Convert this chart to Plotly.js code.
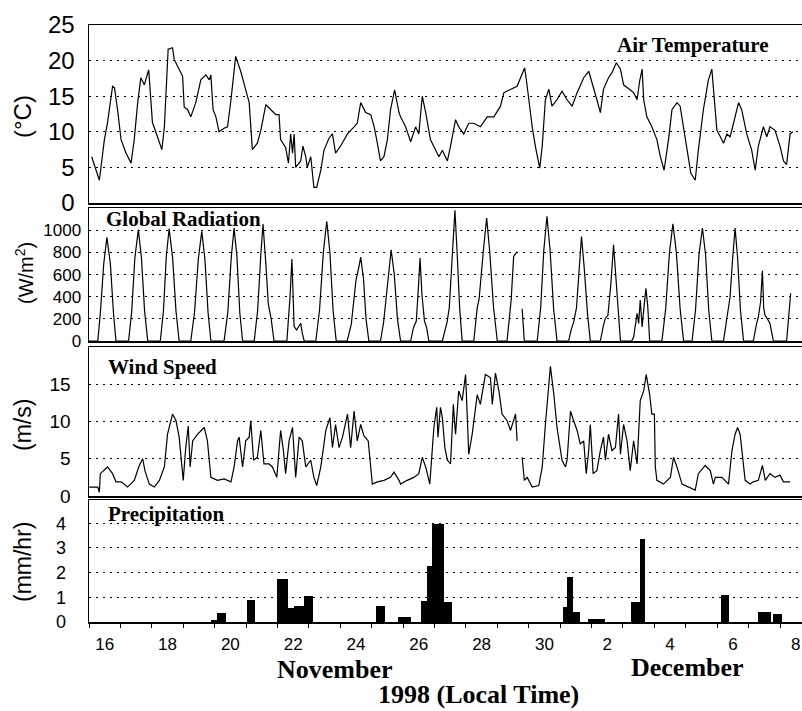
<!DOCTYPE html>
<html>
<head>
<meta charset="utf-8">
<script src="https://cdn.plot.ly/plotly-3.0.1.min.js"></script>
<style>html,body{margin:0;padding:0;background:#fff;}#chart{width:802px;height:711px;}</style>
</head>
<body>
<div id="chart"></div>
<script>
// Time axis: days since 1998-11-16 00:00 local time
const dayTickVals = [0.5, 2.5, 4.5, 6.5, 8.5, 10.5, 12.5, 14.5, 16.5, 18.5, 20.5, 22.5];
const dayTickText = ['16', '18', '20', '22', '24', '26', '28', '30', '2', '4', '6', '8'];

// Air temperature (°C)
const tempT = [0.085,0.33,0.49,0.59,0.75,0.81,0.91,1.02,1.18,1.34,1.44,1.55,1.65,1.76,1.90,1.95,2.02,2.18,2.32,2.40,
  2.47,2.52,2.66,2.71,2.82,2.98,3.03,3.14,3.24,3.40,3.56,3.72,3.83,3.88,3.95,4.04,4.14,4.30,4.41,4.52,
  4.67,4.83,4.99,5.10,5.20,5.36,5.47,5.63,5.79,5.95,6.05,6.10,6.26,6.35,6.42,6.48,6.53,6.58,6.74,6.81,
  6.90,6.95,7.06,7.16,7.25,7.38,7.48,7.64,7.75,7.85,8.01,8.12,8.23,8.44,8.54,8.65,8.81,8.97,9.08,9.18,
  9.28,9.39,9.50,9.60,9.73,9.87,
  9.92,10.08,10.24,10.40,10.50,10.61,10.72,10.87,10.98,11.14,11.25,11.41,11.51,11.67,11.77,11.93,12.09,12.25,12.46,12.68,
  12.89,13.10,13.21,13.42,13.63,13.74,13.87,13.95,14.11,14.21,14.35,14.43,14.53,14.64,14.74,14.90,15.06,15.22,15.38,15.54,
  15.75,15.91,16.02,16.17,16.28,16.38,16.54,16.65,16.79,16.92,17.02,17.18,17.34,17.45,17.53,17.61,17.66,17.76,17.92,18.08,
  18.19,18.31,18.45,18.56,18.72,18.82,18.93,19.04,19.16,19.30,19.40,19.56,19.72,19.83,19.91,19.99,20.10,20.20,20.31,20.41,
  20.52,20.68,20.78,20.94,21.10,21.21,21.31,21.47,21.58,21.68,21.84,22.00,22.11,22.21,22.32,22.41];
const tempV = [6.5,3.2,8.9,11.3,16.4,16.2,13.1,8.9,7.0,5.6,8.9,14.1,17.6,16.6,18.7,15.5,11.3,9.3,7.5,10.7,
  16.9,21.6,21.8,20.2,19.2,17.8,13.5,13.1,12.1,14.1,17.3,18.0,17.3,18.0,13.1,12.1,10.0,10.5,10.7,14.5,
  20.6,18.5,15.9,14.1,7.5,8.4,10.2,13.8,13.1,12.4,12.4,8.9,7.8,5.6,9.7,7.0,9.7,5.0,5.9,8.0,
  6.5,5.0,6.5,2.2,2.2,4.6,7.4,9.1,9.7,7.0,8.0,8.9,9.7,10.7,11.2,14.1,12.7,12.4,10.7,8.4,
  5.9,6.5,8.9,13.1,15.9,12.7,
  12.1,10.7,8.6,10.7,9.7,15.0,12.7,8.9,8.0,6.5,7.4,5.9,8.0,11.7,10.7,9.7,11.2,11.2,10.7,12.1,
  12.1,13.6,15.5,16.0,16.4,17.6,19.0,16.4,10.7,8.0,4.9,8.0,14.5,16.0,13.6,14.5,15.7,14.5,13.6,15.5,
  17.6,18.5,16.9,14.5,12.7,16.0,17.6,18.3,19.7,18.8,16.6,16.1,15.5,14.5,17.1,18.8,14.5,12.1,10.7,8.9,
  6.5,4.6,8.9,13.1,14.1,13.6,10.7,7.4,4.2,3.2,7.4,13.1,17.3,18.8,14.5,10.2,9.3,8.4,9.7,9.3,
  11.2,14.1,13.1,9.7,7.4,4.6,8.0,10.7,9.3,10.7,10.2,8.0,5.9,5.4,9.7,10.0];

// Global radiation (W/m2)
const radT = [0,
  0.28,0.36,0.47,0.57,0.68,0.78,0.86,
  1.26,1.36,1.46,1.57,1.67,1.77,1.87,
  2.27,2.37,2.46,2.55,2.66,2.77,2.87,
  3.24,3.36,3.48,3.59,3.69,3.79,3.88,
  4.30,4.42,4.53,4.62,4.71,4.80,4.89,
  5.26,5.37,5.47,5.54,5.63,5.71,5.80,5.89,
  6.30,6.34,6.40,6.46,6.49,6.53,6.61,6.74,6.79,6.85,
  7.22,7.34,7.46,7.57,7.67,7.77,7.87,
  8.22,8.35,8.50,8.60,8.65,8.74,8.82,8.91,
  9.28,9.38,9.50,9.62,9.72,9.82,9.92,
  10.24,10.33,10.42,10.48,10.54,10.60,10.68,10.75,10.82,
  11.25,11.40,11.47,11.56,11.65,11.72,11.80,11.88,
  12.25,12.36,12.42,12.55,12.66,12.76,12.88,13.00,
  13.31,13.44,13.52,13.63,null,13.79,13.86,
  14.27,14.38,14.48,14.58,14.68,14.79,14.90,
  15.27,15.35,15.43,15.52,15.60,15.68,15.77,15.87,15.96,
  16.28,16.37,16.44,16.52,16.61,16.70,16.77,16.85,16.92,
  17.28,17.34,17.45,17.50,17.55,17.61,17.66,17.73,17.79,17.85,
  18.24,18.36,18.48,18.59,18.70,18.82,18.93,
  19.20,19.31,19.42,19.53,19.63,19.73,19.83,
  20.20,20.30,20.41,20.48,20.57,20.65,20.74,20.84,
  21.15,21.25,21.31,21.38,21.44,21.48,21.52,21.60,21.68,21.79,
  22.21,22.34];
const radV = [0,
  0,250,700,936,700,250,0,
  0,270,750,1006,750,270,0,
  0,270,760,1015,760,270,0,
  0,260,740,991,740,260,0,
  0,260,760,1021,760,260,0,
  0,280,780,1058,700,330,200,0,
  0,160,400,740,370,130,100,160,70,0,
  0,280,800,1082,800,280,0,
  0,150,550,680,758,560,200,0,
  0,170,500,824,600,200,0,
  0,120,180,450,749,420,180,120,0,
  0,170,300,800,1182,800,300,0,
  0,300,380,800,1112,800,300,0,
  0,370,764,809,null,291,0,
  0,300,820,1127,820,300,0,
  0,100,170,300,650,945,650,250,0,
  0,130,206,230,500,870,600,220,0,
  0,36,250,158,370,127,279,476,309,0,
  0,290,800,1058,800,290,0,
  0,280,780,1021,780,280,0,
  0,200,400,700,1021,750,280,0,
  0,150,218,350,634,300,234,200,158,0,
  0,431];

// Wind speed (m/s)
const windT = [0.01,0.28,0.33,0.36,0.59,0.75,0.86,1.02,1.23,1.44,1.60,1.71,1.78,1.92,2.08,2.24,2.40,2.50,2.66,2.77,
  2.87,3.00,3.08,3.16,3.22,3.30,3.46,3.67,3.77,3.88,4.09,4.30,4.52,4.62,4.73,4.78,4.89,4.99,5.10,5.15,
  5.24,5.36,5.47,5.57,5.73,5.84,5.98,6.10,6.19,6.26,6.37,6.48,6.58,6.69,6.79,6.90,7.06,7.16,7.25,7.38,
  7.54,7.67,7.75,7.85,7.96,8.07,8.23,8.33,8.44,8.54,8.65,8.75,8.89,9.02,9.18,9.39,9.60,9.71,9.87,
  9.92,10.13,10.34,10.50,10.61,10.72,10.85,10.98,11.07,11.11,11.19,11.25,11.33,11.41,11.51,11.60,11.67,11.77,11.88,11.99,
  12.09,12.20,12.36,12.46,12.62,12.78,12.84,12.94,13.05,13.15,13.31,13.42,13.58,13.63,null,13.79,13.86,13.95,14.11,14.32,
  14.43,14.53,14.69,14.80,14.90,15.06,15.17,15.22,15.33,15.43,15.54,15.64,15.75,15.83,15.91,15.96,16.05,16.17,16.28,16.38,
  16.44,16.54,16.65,16.76,16.86,16.92,17.02,17.13,17.23,17.34,17.45,17.55,17.66,17.74,17.85,17.92,18.00,18.03,18.08,18.29,
  18.51,18.61,18.72,18.88,19.09,19.30,19.40,19.62,19.78,19.88,19.94,20.15,20.36,20.47,20.57,20.65,20.73,20.89,21.05,21.15,
  21.31,21.44,21.53,21.68,21.84,22.00,22.11,22.32];
const windV = [1.2,1.2,0.5,3.0,3.9,3.0,1.9,1.9,1.2,2.1,4.1,5.0,3.4,1.6,1.2,2.1,3.9,8.3,11.0,10.1,
  7.9,2.1,6.5,9.4,3.9,7.4,8.3,9.2,7.4,2.5,2.1,2.3,1.9,3.9,7.4,7.9,3.9,7.4,7.9,10.1,
  4.8,5.2,8.8,4.3,4.3,3.9,2.5,8.8,6.1,3.0,7.4,9.2,2.5,7.9,7.4,3.9,4.8,2.5,1.4,3.9,
  8.8,10.5,6.5,9.6,6.5,7.9,11.0,6.5,11.4,7.4,9.6,8.1,7.4,1.6,1.9,2.1,2.5,3.2,2.1,
  1.6,2.1,2.5,3.0,5.2,3.9,1.6,9.2,11.9,7.9,11.9,10.5,6.5,4.8,4.3,12.3,8.3,14.1,12.8,16.3,
  5.6,8.3,13.6,12.3,16.3,15.9,12.3,16.5,14.1,11.0,10.1,8.8,11.0,7.4,null,5.2,2.1,2.5,1.2,1.4,
  3.9,9.6,17.4,13.6,9.2,4.8,3.9,4.8,11.4,10.1,8.8,7.0,7.4,3.0,6.1,9.6,3.0,3.4,6.1,7.9,
  4.8,8.3,6.1,6.5,11.0,5.6,9.6,7.4,3.4,7.4,4.3,12.8,14.1,16.3,13.6,11.0,11.0,3.9,2.1,1.6,
  2.5,5.2,3.9,1.6,1.2,0.8,3.0,4.1,3.4,1.6,2.5,2.5,1.6,6.1,8.3,9.2,8.3,2.1,1.6,1.9,
  2.1,4.1,2.1,3.0,2.5,2.8,1.9,1.9];

// Precipitation (mm/hr): accumulation periods (start, end in days) and rate
const precipStart = [3.88,4.09,5.02,6.00,6.32,6.53,6.83,9.13,9.83,10.56,10.77,10.93,11.30,15.08,15.22,15.41,15.90,17.26,17.53,20.12,21.31,21.77];
const precipEnd   = [4.09,4.36,5.28,6.32,6.53,6.83,7.14,9.41,10.24,10.77,10.93,11.30,11.56,15.22,15.41,15.62,16.44,17.53,17.71,20.36,21.72,22.05];
const precipRate  = [0.10,0.36,0.88,1.75,0.57,0.66,1.04,0.66,0.19,0.84,2.28,3.96,0.80,0.60,1.82,0.40,0.13,0.81,3.38,1.10,0.42,0.32];

// ---- layout helpers (pixel -> paper) ----
const W = 802, H = 711;
const M = {l: 89, r: 0, t: 25, b: 89};
const PW = W - M.l - M.r, PH = H - M.t - M.b;
const px = x => (x - M.l) / PW;
const py = y => (H - M.b - y) / PH;

const lineStyle = {color: '#000', width: 1.2};
const traces = [
  {x: tempT, y: tempV, xaxis: 'x', yaxis: 'y', type: 'scatter', mode: 'lines', line: lineStyle, hoverinfo: 'skip'},
  {x: radT, y: radV, xaxis: 'x2', yaxis: 'y2', type: 'scatter', mode: 'lines', line: lineStyle, hoverinfo: 'skip'},
  {x: windT, y: windV, xaxis: 'x3', yaxis: 'y3', type: 'scatter', mode: 'lines', line: lineStyle, hoverinfo: 'skip'},
  {x: precipStart.map((s, i) => (s + precipEnd[i]) / 2),
   width: precipStart.map((s, i) => precipEnd[i] - s),
   y: precipRate, xaxis: 'x4', yaxis: 'y4', type: 'bar',
   marker: {color: '#000', line: {width: 0}}, hoverinfo: 'skip'}
];

const xRange = [0, 22.7];
const xBase = {range: xRange, showline: true, linecolor: '#000', linewidth: 1.5, mirror: true,
  showgrid: false, zeroline: false, showticklabels: false, ticks: ''};
const gridDash = '2px,5px';
function yAx(domain, range, tickvals, fs, standoff) {
  return {domain: domain, range: range, tickmode: 'array', tickvals: tickvals,
    showline: true, linecolor: '#000', linewidth: 1.5, mirror: false,
    showgrid: true, gridcolor: '#000', gridwidth: 1, griddash: gridDash,
    zeroline: false, ticks: '', ticklabelstandoff: standoff,
    tickfont: {family: 'Liberation Sans, Arial, sans-serif', size: fs, color: '#000'}};
}

const layout = {
  width: W, height: H, margin: M, showlegend: false,
  paper_bgcolor: '#fff', plot_bgcolor: '#fff', bargap: 0,
  xaxis: Object.assign({}, xBase, {anchor: 'y'}),
  xaxis2: Object.assign({}, xBase, {anchor: 'y2', matches: 'x'}),
  xaxis3: Object.assign({}, xBase, {anchor: 'y3', matches: 'x'}),
  xaxis4: Object.assign({}, xBase, {anchor: 'y4', matches: 'x',
    showticklabels: true, tickmode: 'array', tickvals: dayTickVals, ticktext: dayTickText,
    ticks: 'outside', ticklen: 0, ticklabelstandoff: 6,
    minor: {tick0: 0, dtick: 1, ticks: 'outside', ticklen: 4, tickwidth: 1, tickcolor: '#000', showgrid: false},
    tickfont: {family: 'Liberation Sans, Arial, sans-serif', size: 17, color: '#000'}}),
  yaxis: yAx([py(203), 1], [0, 25], [0, 5, 10, 15, 20, 25], 24, 8),
  yaxis2: yAx([py(341), py(208)], [0, 1202], [0, 200, 400, 600, 800, 1000], 17, 3),
  yaxis3: yAx([py(496), py(347)], [0, 20], [0, 5, 10, 15], 19, 13),
  yaxis4: yAx([0, py(500)], [0, 4.94], [0, 1, 2, 3, 4], 18, 18),
  annotations: []
};

const serif = 'Liberation Serif, Times New Roman, serif';
const sans = 'Liberation Sans, Arial, sans-serif';
function ann(text, x, y, opts) {
  return Object.assign({text: text, xref: 'paper', yref: 'paper', x: px(x), y: py(y),
    showarrow: false, xanchor: 'center', yanchor: 'middle'}, opts);
}
layout.annotations.push(
  ann('<b>Air Temperature</b>', 692, 45, {font: {family: serif, size: 21, color: '#000'}}),
  ann('<b>Global Radiation</b>', 104, 219, {xanchor: 'left', font: {family: serif, size: 21, color: '#000'}}),
  ann('<b>Wind Speed</b>', 106, 367, {xanchor: 'left', font: {family: serif, size: 21, color: '#000'}}),
  ann('<b>Precipitation</b>', 106, 514, {xanchor: 'left', font: {family: serif, size: 21, color: '#000'}}),
  ann('(°C)', 23, 117, {textangle: -90, font: {family: sans, size: 24, color: '#000'}}),
  ann('(W/m<sup>2</sup>)', 24, 273, {textangle: -90, font: {family: sans, size: 20, color: '#000'}}),
  ann('(m/s)', 23, 425, {textangle: -90, font: {family: sans, size: 23, color: '#000'}}),
  ann('(mm/hr)', 23, 562, {textangle: -90, font: {family: sans, size: 23, color: '#000'}}),
  ann('<b>November</b>', 335, 669, {font: {family: serif, size: 26, color: '#000'}}),
  ann('<b>December</b>', 687, 667, {font: {family: serif, size: 26, color: '#000'}}),
  ann('<b>1998 (Local Time)</b>', 478, 694, {font: {family: serif, size: 26, color: '#000'}})
);

Plotly.newPlot('chart', traces, layout, {staticPlot: true, displayModeBar: false});
</script>
</body>
</html>
